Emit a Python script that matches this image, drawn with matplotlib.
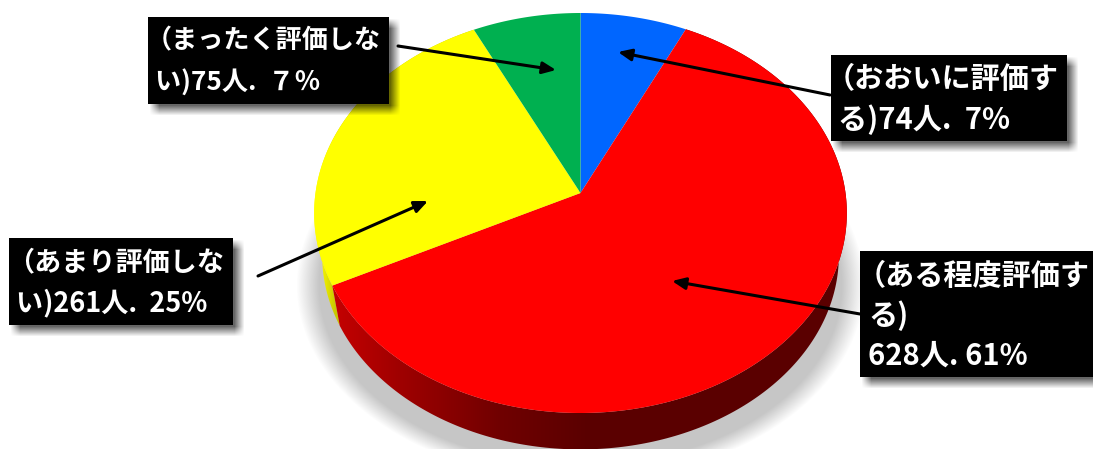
import numpy as np
import matplotlib
matplotlib.use("Agg")
import matplotlib.pyplot as plt
from matplotlib.colors import LinearSegmentedColormap
from matplotlib.patches import Polygon, Rectangle

plt.rcParams['font.family'] = ['Noto Sans CJK JP', 'DejaVu Sans']

# data
categories = ["おおいに評価する", "ある程度評価する", "あまり評価しない", "まったく評価しない"]
people = [74, 628, 261, 75]
colors = ["#0066ff", "#ff0000", "#ffff00", "#00b050"]

label_lines = [
    ["（おおいに評価す", "る)74人.  7%"],
    ["（ある程度評価す", "る)", "628人. 61%"],
    ["（あまり評価しな", "い)261人.  25%"],
    ["（まったく評価しな", "い)75人.  ７％"],
]

W, H = 1093, 449
fig = plt.figure(figsize=(W / 100, H / 100), dpi=100)
ax = fig.add_axes([0, 0, 1, 1])

# get the slice angles from pie, then put the wedges in perspective by hand
wedges, _ = ax.pie(people, startangle=90, counterclock=False, colors=colors)
angles = [(w.theta1, w.theta2) for w in wedges]
for w in wedges:
    w.remove()
ax.set_aspect('auto')
ax.set_xlim(0, W)
ax.set_ylim(H, 0)
ax.axis('off')

cx, cy = 580.5, 193
k = 0.1


def persp(deg, scale=1.0, dy=0.0):
    t = np.radians(deg)
    d = 1 + k * np.sin(t)
    return np.column_stack([cx + scale * 265 * np.cos(t) / d,
                            cy + dy - scale * 198 * np.sin(t) / d])


def arc(a, b, scale=1.0, dy=0.0):
    return persp(np.linspace(a, b, 240), scale, dy)


yy, xx = np.mgrid[0:H, 0:W]

# soft shadow under the pie
d = np.sqrt(((xx - 580) / 284.0) ** 2 + ((yy - 285) / 195.0) ** 2)
a = np.clip((1.0 - d) / 0.08, 0, 1)
shadow = np.zeros((H, W, 4))
shadow[..., :3] = 0.78
shadow[..., 3] = a * (yy > 190)
ax.imshow(shadow, extent=(0, W, H, 0), aspect='auto', zorder=1)

# box shadows
boxes = [(831, 55, 236, 86), (860, 251, 233, 126), (9, 238, 224, 87), (148, 17, 241, 87)]
g = 5.0
off = 6
bs = np.zeros((H, W, 4))
for bx, by, bw, bh in boxes:
    ramp_x = np.clip((xx - (bx + off - g)) / (2 * g), 0, 1) * np.clip(((bx + bw + off + g) - xx) / (2 * g), 0, 1)
    ramp_y = np.clip((yy - (by + off - g)) / (2 * g), 0, 1) * np.clip(((by + bh + off + g) - yy) / (2 * g), 0, 1)
    bs[..., 3] = np.maximum(bs[..., 3], ramp_x * ramp_y * 0.6)
ax.imshow(bs, extent=(0, W, H, 0), aspect='auto', zorder=5.5)

# sides of yellow and red
dep = 43.0
low = 0.97
red_a, red_b = angles[1]
yel_a, yel_b = angles[2]

side_cmap = LinearSegmentedColormap.from_list(
    "side", [(0, "#c40000"), (0.25, "#a00000"), (0.65, "#700000"), (1, "#5a0000")])
grad = np.clip((xx[0] - 333) / (590 - 333.0), 0, 1)[None, :]
img = ax.imshow(grad, extent=(0, W, H, 0), aspect='auto', cmap=side_cmap, vmin=0, vmax=1, zorder=4)
# strip between the top rim and the lower rim
pts = np.vstack([arc(red_a, red_b), arc(red_a, red_b, low, dep)[::-1]])
clip = Polygon(pts, closed=True, transform=ax.transData)
img.set_clip_path(clip)

yel_cmap = LinearSegmentedColormap.from_list("yside", ["#ffff00", "#c8c800"])
grad2 = np.clip((xx[0] - 318) / 17.0, 0, 1)[None, :]
img2 = ax.imshow(grad2, extent=(0, W, H, 0), aspect='auto', cmap=yel_cmap, vmin=0, vmax=1, zorder=3)
pts2 = np.vstack([arc(yel_a, yel_b), arc(yel_a, yel_b, low, dep)[::-1]])
img2.set_clip_path(Polygon(pts2, closed=True, transform=ax.transData))

# top face
for (a1, a2), c in zip(angles, colors):
    pts = np.vstack([[cx, cy], arc(a1, a2)])
    ax.add_patch(Polygon(pts, closed=True, fc=c, ec='none', zorder=5))

# label boxes
for bx, by, bw, bh in boxes:
    ax.add_patch(Rectangle((bx, by), bw, bh, fc='black', ec='none', zorder=6))

text_pos = [
    [(826, 79), (838, 120)],
    [(857, 276), (868, 316), (868, 356)],
    [(7, 262), (16, 303)],
    [(146, 41), (155, 83)],
]
text_size = [21, 21, 19.5, 18.8]
for lines, pos, fs in zip(label_lines, text_pos, text_size):
    for s, (tx, ty) in zip(lines, pos):
        ax.text(tx, ty, s, color='white', fontsize=fs, va='center', ha='left',
                fontweight='bold', zorder=7)

# leader arrows
arrows = [((830, 95), (618, 52)), ((860, 314), (672, 281)),
          ((258, 276), (428, 201)), ((398, 46), (556, 70))]
for start, end in arrows:
    ax.annotate("", xy=end, xytext=start, zorder=8,
                arrowprops=dict(arrowstyle="-|>,head_length=0.8,head_width=0.35", color='black',
                                lw=2.2, shrinkA=0, shrinkB=0))

fig.savefig("out.png", dpi=100)
